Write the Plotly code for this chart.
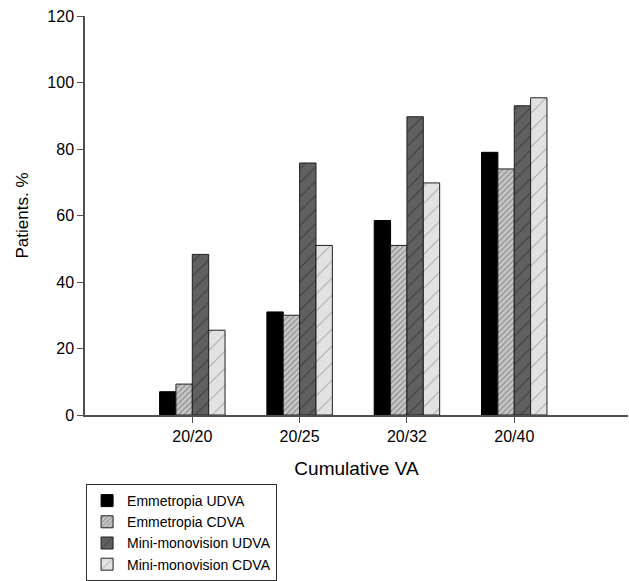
import plotly.graph_objects as go

categories = ["20/20", "20/25", "20/32", "20/40"]
cat_pos = [1, 2, 3, 4]
emm_udva = [7, 31, 58.5, 79]
emm_cdva = [9.3, 30, 51, 74]
mini_udva = [48.3, 75.8, 89.7, 93]
mini_cdva = [25.5, 51, 69.8, 95.4]
y_ticks = [0, 20, 40, 60, 80, 100, 120]

FONT = "Liberation Sans, Arial, sans-serif"

fig = go.Figure()
fig.add_bar(name="Emmetropia UDVA", x=cat_pos, y=emm_udva,
            marker=dict(color="black", line=dict(color="black", width=1)))
fig.add_bar(name="Emmetropia CDVA", x=cat_pos, y=emm_cdva,
            marker=dict(color="#c8c8c8", line=dict(color="#202020", width=1),
                        pattern=dict(shape="/", size=4, solidity=0.3,
                                     fgcolor="#505050", bgcolor="#c8c8c8")))
fig.add_bar(name="Mini-monovision UDVA", x=cat_pos, y=mini_udva,
            marker=dict(color="#606060", line=dict(color="#202020", width=1),
                        pattern=dict(shape="/", size=10, solidity=0.1,
                                     fgcolor="#1a1a1a", bgcolor="#606060")))
fig.add_bar(name="Mini-monovision CDVA", x=cat_pos, y=mini_cdva,
            marker=dict(color="#e2e2e2", line=dict(color="#202020", width=1),
                        pattern=dict(shape="/", size=12, solidity=0.08,
                                     fgcolor="#404040", bgcolor="#e2e2e2")))

fig.update_layout(
    width=629, height=581,
    margin=dict(l=85, r=1, t=16, b=165),
    paper_bgcolor="white", plot_bgcolor="white",
    barmode="group", bargap=0.39, bargroupgap=0,
    font=dict(family=FONT, color="black", size=16),
    showlegend=True,
    legend=dict(x=0.002, y=-0.17, xanchor="left", yanchor="top",
                bordercolor="#303030", borderwidth=1,
                font=dict(size=14, family=FONT, color="black"),
                tracegroupgap=0, itemwidth=30),
    xaxis=dict(range=[0, 5.06], tickvals=cat_pos, ticktext=categories,
               showgrid=False, zeroline=False, showline=True,
               linecolor="#505050", linewidth=1.5,
               ticks="outside", ticklen=6, tickcolor="#505050",
               tickfont=dict(size=16),
               title=dict(text="Cumulative VA", font=dict(size=19), standoff=18)),
    yaxis=dict(range=[0, 120], tickvals=y_ticks,
               showgrid=False, zeroline=False, showline=True,
               linecolor="#505050", linewidth=1.5,
               ticks="outside", ticklen=6, tickcolor="#505050",
               tickfont=dict(size=16),
               title=dict(text="Patients. %", font=dict(size=17), standoff=14)),
)

fig.write_html("out.html", config={"displayModeBar": False},
               post_script="document.body.style.margin='0px';document.body.style.padding='0px';")
